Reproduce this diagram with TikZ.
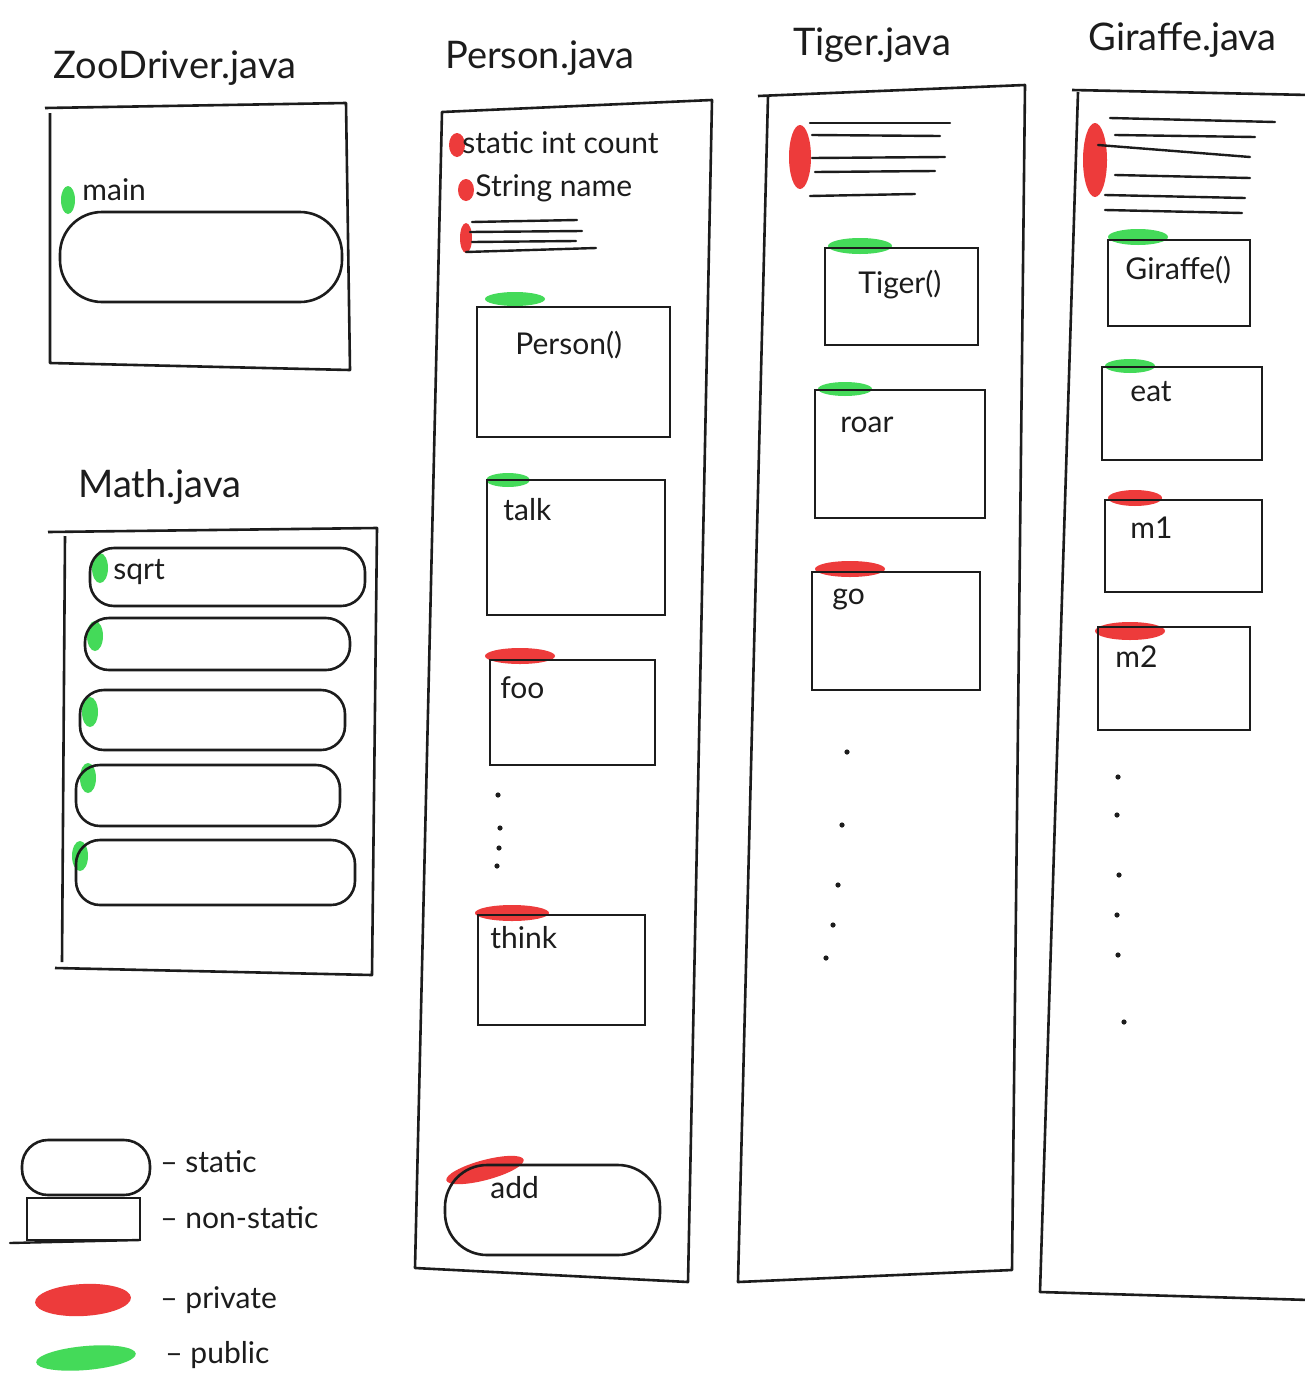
\documentclass[tikz,border=0pt]{standalone}
\usepackage{fontspec}
\setmainfont{Lato}
\usetikzlibrary{fit,shapes.geometric}
\definecolor{pen}{RGB}{28,28,28}
\definecolor{priv}{RGB}{236,38,38}
\definecolor{publ}{RGB}{48,214,72}
\begin{document}
\begin{tikzpicture}[x=0.5pt,y=-0.5pt,
  mbox/.style={draw=pen, line width=1.3pt, inner sep=0pt, rectangle},
  sbox/.style={mbox, rounded corners=12pt},
  cls/.style={draw=pen, line width=1.3pt, line join=round},
  stroke/.style={draw=pen, line width=1.2pt, line cap=round},
  privmark/.style={ellipse, fill=priv, draw=none, opacity=0.9, inner sep=0pt},
  publmark/.style={ellipse, fill=publ, draw=none, opacity=0.9, inner sep=0pt},
  title/.style={font=\fontsize{19}{21}\selectfont, text=pen, inner sep=0pt},
  lbl/.style={font=\fontsize{15}{17}\selectfont, anchor=west, text=pen, inner sep=0pt},
  dotmark/.style={circle, fill=pen, inner sep=0pt, minimum size=2.6pt}]
\useasboundingbox[fill=white] (0,0) rectangle (1305,1381);

% ---------- marks (drawn first) ----------
\node[publmark, minimum width=7pt, minimum height=14pt] (mk-main) at (68,200) {};
\node[publmark, minimum width=8pt, minimum height=15pt] (mk-m1) at (100,568) {};
\node[publmark, minimum width=8pt, minimum height=15pt] (mk-m2) at (95,636) {};
\node[publmark, minimum width=8pt, minimum height=15pt] (mk-m3) at (90,712) {};
\node[publmark, minimum width=8pt, minimum height=15pt] (mk-m4) at (88,778) {};
\node[publmark, minimum width=8pt, minimum height=15pt] (mk-m5) at (80,856) {};
\node[privmark, minimum width=8pt, minimum height=12pt] (mk-count) at (457,145) {};
\node[privmark, minimum width=8pt, minimum height=11pt] (mk-name) at (466,190) {};
\node[privmark, minimum width=6pt, minimum height=15pt] (mk-plines) at (466,238) {};
\node[publmark, minimum width=30pt, minimum height=7pt] (mk-person) at (515,299) {};
\node[publmark, minimum width=22pt, minimum height=7pt] (mk-talk) at (508,480) {};
\node[privmark, minimum width=35pt, minimum height=8pt] (mk-foo) at (520,656) {};
\node[privmark, minimum width=37pt, minimum height=8pt] (mk-think) at (512,913) {};
\node[privmark, minimum width=40pt, minimum height=10pt, rotate=15] (mk-add) at (485,1170) {};
\node[privmark, minimum width=11pt, minimum height=32pt] (mk-tlines) at (800,157) {};
\node[publmark, minimum width=32pt, minimum height=8pt] (mk-tiger) at (860,246) {};
\node[publmark, minimum width=27pt, minimum height=7pt] (mk-roar) at (845,389) {};
\node[privmark, minimum width=35pt, minimum height=8pt] (mk-go) at (850,569) {};
\node[privmark, minimum width=12pt, minimum height=37pt] (mk-glines) at (1095,160) {};
\node[publmark, minimum width=30pt, minimum height=8pt] (mk-giraffe) at (1138,237) {};
\node[publmark, minimum width=25pt, minimum height=7pt] (mk-eat) at (1130,366) {};
\node[privmark, minimum width=27pt, minimum height=8pt] (mk-mone) at (1135,498) {};
\node[privmark, minimum width=35pt, minimum height=9pt] (mk-mtwo) at (1130,631) {};
\node[privmark, minimum width=48pt, minimum height=16pt, rotate=3] (mk-legpriv) at (83,1300) {};
\node[publmark, minimum width=50pt, minimum height=12pt, rotate=5] (mk-legpubl) at (86,1358) {};

% ---------- class containers ----------
\draw[cls] (45,108) -- (346,103) -- (350,370) -- (50,363) -- (50,113);
\draw[cls] (48,532) -- (377,528) -- (372,975) -- (55,968);
\draw[cls] (65,536) -- (62,962);
\draw[cls] (442,112) -- (712,100) -- (688,1282) -- (415,1268) -- cycle;
\draw[cls] (758,96) -- (1025,85) -- (1012,1270) -- (738,1282) -- (768,96);
\draw[cls] (1072,90) -- (1310,95);
\draw[cls] (1078,92) -- (1040,1292) -- (1310,1300);

% ---------- titles ----------
\node[title] (t-zoo) at (175,68) {ZooDriver.java};
\node[title] (t-math) at (160,487) {Math.java};
\node[title] (t-person) at (540,58) {Person.java};
\node[title] (t-tiger) at (872,45) {Tiger.java};
\node[title, anchor=west] (t-giraffe) at (1088,40) {Giraffe.java};

% ---------- ZooDriver ----------
\node[sbox, rounded corners=21pt, fit={(60,212) (342,302)}] (main) {};
\node[lbl] (l-main) at (82,190) {main};

% ---------- Math ----------
\node[sbox, fit={(90,548) (365,606)}] (sqrt) {};
\node[sbox, fit={(85,618) (350,670)}] (mo2) {};
\node[sbox, fit={(80,690) (345,750)}] (mo3) {};
\node[sbox, fit={(76,765) (340,826)}] (mo4) {};
\node[sbox, fit={(76,840) (355,905)}] (mo5) {};
\node[lbl] (l-sqrt) at (113,572) {sqrt};

% ---------- Person ----------
\node[lbl] (l-count) at (462,143) {static int count};
\node[lbl] (l-name) at (475,188) {String name};
\draw[stroke] (472,222) -- (577,220);
\draw[stroke] (470,232) -- (582,231);
\draw[stroke] (472,242) -- (576,241);
\draw[stroke] (466,252) -- (596,248);
\node[mbox, fit={(477,307) (670,437)}] (person) {};
\node[lbl] (l-person) at (515,345) {Person()};
\node[mbox, fit={(487,480) (665,615)}] (talk) {};
\node[lbl] (l-talk) at (503,510) {talk};
\node[mbox, fit={(490,660) (655,765)}] (foo) {};
\node[lbl] (l-foo) at (500,688) {foo};
\node[dotmark] (pd1) at (498,795) {};
\node[dotmark] (pd2) at (500,828) {};
\node[dotmark] (pd3) at (499,848) {};
\node[dotmark] (pd4) at (497,866) {};
\node[mbox, fit={(478,915) (645,1025)}] (think) {};
\node[lbl] (l-think) at (490,938) {think};
\node[sbox, rounded corners=21pt, fit={(445,1165) (660,1255)}] (add) {};
\node[lbl] (l-add) at (490,1188) {add};

% ---------- Tiger ----------
\draw[stroke] (810,123) -- (950,123);
\draw[stroke] (812,135) -- (940,136);
\draw[stroke] (812,158) -- (945,157);
\draw[stroke] (815,172) -- (935,171);
\draw[stroke] (810,196) -- (915,194);
\node[mbox, fit={(825,248) (978,345)}] (tiger) {};
\node[lbl] (l-tiger) at (858,285) {Tiger()};
\node[mbox, fit={(815,390) (985,518)}] (roar) {};
\node[lbl] (l-roar) at (840,425) {roar};
\node[mbox, fit={(812,572) (980,690)}] (go) {};
\node[lbl] (l-go) at (832,600) {go};
\node[dotmark] (td1) at (847,752) {};
\node[dotmark] (td2) at (842,825) {};
\node[dotmark] (td3) at (838,885) {};
\node[dotmark] (td4) at (833,925) {};
\node[dotmark] (td5) at (826,958) {};

% ---------- Giraffe ----------
\draw[stroke] (1110,118) -- (1275,122);
\draw[stroke] (1115,135) -- (1255,137);
\draw[stroke] (1098,145) -- (1250,157);
\draw[stroke] (1115,175) -- (1250,178);
\draw[stroke] (1105,195) -- (1245,198);
\draw[stroke] (1105,210) -- (1242,213);
\node[mbox, fit={(1108,240) (1250,326)}] (giraffe) {};
\node[lbl] (l-giraffe) at (1125,270) {Giraffe()};
\node[mbox, fit={(1102,367) (1262,460)}] (eat) {};
\node[lbl] (l-eat) at (1130,392) {eat};
\node[mbox, fit={(1105,500) (1262,592)}] (mone) {};
\node[lbl] (l-mone) at (1130,528) {m1};
\node[mbox, fit={(1098,627) (1250,730)}] (mtwo) {};
\node[lbl] (l-mtwo) at (1115,657) {m2};
\node[dotmark] (gd1) at (1118,777) {};
\node[dotmark] (gd2) at (1117,815) {};
\node[dotmark] (gd3) at (1119,875) {};
\node[dotmark] (gd4) at (1117,915) {};
\node[dotmark] (gd5) at (1118,955) {};
\node[dotmark] (gd6) at (1124,1022) {};

% ---------- legend ----------
\node[sbox, rounded corners=13pt, fit={(22,1140) (150,1195)}] (leg-static) {};
\node[mbox, fit={(27,1198) (140,1240)}] (leg-nonstatic) {};
\draw[stroke] (10,1243) -- (140,1240);
\node[lbl] (l-static) at (160,1162) {– static};
\node[lbl] (l-nonstatic) at (160,1218) {– non-static};
\node[lbl] (l-private) at (160,1300) {– private};
\node[lbl] (l-public) at (165,1355) {– public};
\end{tikzpicture}
\end{document}
